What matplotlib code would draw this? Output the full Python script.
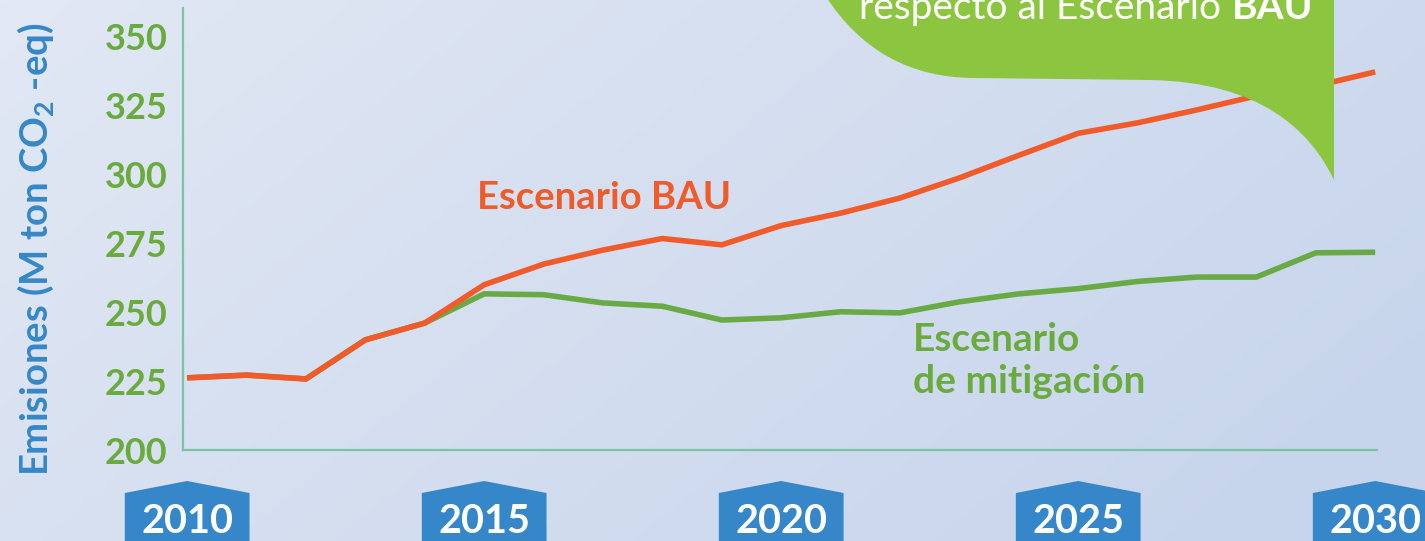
import numpy as np
import matplotlib
matplotlib.use("Agg")
import matplotlib.pyplot as plt
from matplotlib.path import Path
from matplotlib.patches import PathPatch, Polygon
from matplotlib.transforms import blended_transform_factory

# ---- data ----
years = list(range(2010, 2031))
bau = [226.2, 227.2, 225.8, 240.0, 246.1, 260.0, 267.5, 272.6, 276.8, 274.5,
       281.5, 286.0, 291.5, 298.8, 307.0, 315.0, 318.8, 323.5, 328.6, 332.2, 337.3]
mitigacion = [226.2, 227.2, 225.8, 240.0, 246.1, 256.7, 256.4, 253.4, 252.2, 247.2,
              248.0, 250.2, 249.8, 253.8, 256.7, 258.6, 261.2, 262.8, 262.8, 271.6, 271.8]
year_badges = [2010, 2015, 2020, 2025, 2030]
y_ticks = [200, 225, 250, 275, 300, 325, 350]

ORANGE = "#F15A29"
GREEN_LINE = "#6AAA44"
GREEN_TXT = "#6AAB3E"
GREEN_BOX = "#8CC540"
BLUE = "#3587C9"
SPINE = "#7CC3A4"

W, H = 1425, 541
plt.rcParams['font.family'] = ['Lato', 'DejaVu Sans']

fig = plt.figure(figsize=(W / 100, H / 100), dpi=100)


def px(x, y):
    # pixel position (top-left origin) -> figure fraction
    return (x / W, 1 - y / H)


# background gradient
bg = fig.add_axes([0, 0, 1, 1], zorder=-10)
gx, gy = np.meshgrid(np.linspace(0, 1, 300), np.linspace(0, 1, 120))
t = np.clip(0.75 * gx + 0.35 * gy, 0, 1)
c0 = np.array([226, 232, 244]) / 255
c1 = np.array([199, 213, 236]) / 255
img = c0[None, None, :] * (1 - t[..., None]) + c1[None, None, :] * t[..., None]
bg.imshow(img, extent=[0, 1, 0, 1], aspect="auto", origin="upper")
bg.set_axis_off()

# main axes
ax = fig.add_axes([183 / W, 1 - 450 / H, (1377 - 183) / W, (450 - 8) / H])
ax.set_facecolor("none")

ax.plot(years, mitigacion, color=GREEN_LINE, lw=4.0, solid_joinstyle="round",
        solid_capstyle="butt", zorder=3)
ax.plot(years, bau, color=ORANGE, lw=4.0, solid_joinstyle="round",
        solid_capstyle="butt", zorder=4)

ax.set_xlim(2009.93, 2030.03)
ax.set_ylim(200, 360.5)
ax.set_xticks([])
ax.set_yticks(y_ticks)
ax.set_yticklabels([str(v) for v in y_ticks], fontweight="bold")
ax.tick_params(axis="y", length=0, pad=11, labelsize=26, labelcolor=GREEN_TXT)
for s in ["top", "right"]:
    ax.spines[s].set_visible(False)
for s in ["left", "bottom"]:
    ax.spines[s].set_color(SPINE)
    ax.spines[s].set_linewidth(1.6)

# y label
fig.text(*px(36, 249), "Emisiones (M ton CO$_\\mathregular{2}$ -eq)", rotation=90,
         ha="center", va="center", fontsize=27.5, fontweight="bold", color=BLUE)

# year badges under the axis
tb = blended_transform_factory(ax.transData, fig.transFigure)
half = 1.05
y_peak = 1 - 481 / H
y_sh = 1 - 493 / H
for yr in year_badges:
    verts = [(yr - half, y_sh), (yr, y_peak), (yr + half, y_sh),
             (yr + half, -0.05), (yr - half, -0.05)]
    ax.add_patch(Polygon(verts, closed=True, transform=tb, facecolor=BLUE,
                         edgecolor="none", clip_on=False, zorder=5))
    ax.text(yr, 1 - 533 / H, str(yr), transform=tb, ha="center", va="baseline",
            fontsize=28.5, fontweight="bold", color="white", zorder=6, clip_on=False)

# series labels
ax.text(2014.88, 1 - 198 / H, "Escenario BAU", transform=tb, ha="left", va="center",
        fontsize=27.5, fontweight="bold", color=ORANGE)
ax.text(2022.22, 1 - 351 / H, "Escenario", transform=tb, ha="left", va="baseline",
        fontsize=28, fontweight="bold", color=GREEN_TXT)
ax.text(2022.22, 1 - 393 / H, "de mitigación", transform=tb, ha="left", va="baseline",
        fontsize=28, fontweight="bold", color=GREEN_TXT)

# callout bubble at the top
codes = [Path.MOVETO, Path.CURVE4, Path.CURVE4, Path.CURVE4, Path.LINETO,
         Path.CURVE4, Path.CURVE4, Path.CURVE4, Path.LINETO, Path.CLOSEPOLY]
pts = [(825, -5), (860, 50), (910, 78), (975, 78), (1150, 80),
       (1260, 82), (1310, 130), (1334, 180), (1334, -5), (825, -5)]
callout = PathPatch(Path([px(*p) for p in pts], codes), transform=fig.transFigure,
                    facecolor=GREEN_BOX, edgecolor="none", zorder=2)
fig.patches.append(callout)
fig.text(*px(1221, 19), "respecto al Escenario", ha="right", va="baseline",
         fontsize=28, color="white", zorder=3)
fig.text(*px(1232, 19), "BAU", ha="left", va="baseline",
         fontsize=28, fontweight="bold", color="white", zorder=3)

fig.savefig("out.png", dpi=100)
